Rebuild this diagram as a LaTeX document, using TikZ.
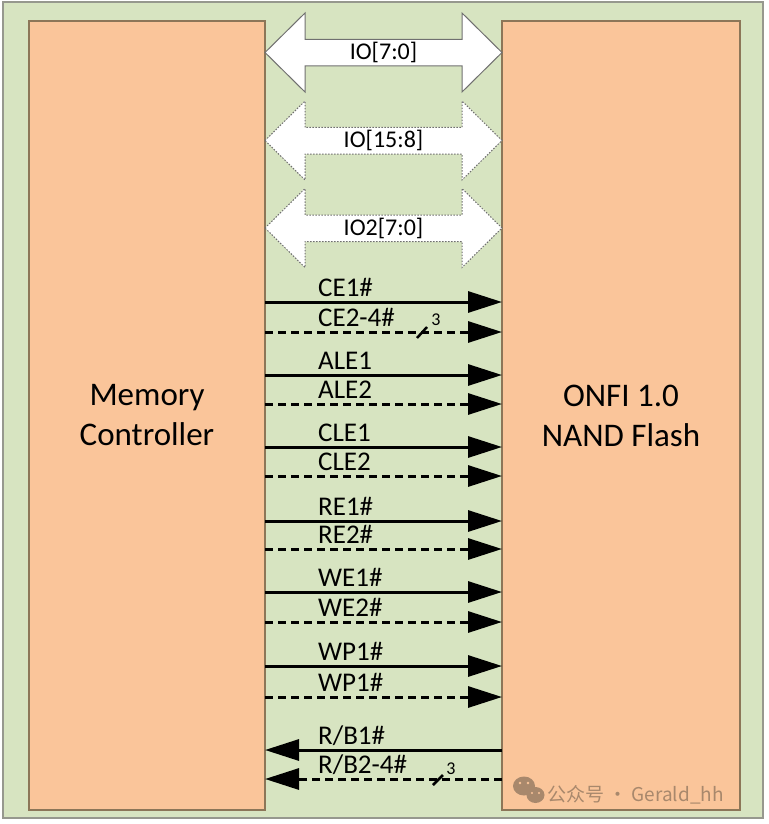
\documentclass[tikz,border=0pt]{standalone}
\usepackage{fontspec}
\setmainfont{Carlito}
\newfontfamily\cjkfont{Noto Sans CJK SC}
\usetikzlibrary{arrows.meta}
\definecolor{bggreen}{RGB}{215,228,193}
\definecolor{chiporange}{RGB}{250,197,154}
\definecolor{chipborder}{RGB}{140,118,88}
\definecolor{outerborder}{RGB}{150,152,142}
\definecolor{busborder}{RGB}{112,112,112}
\definecolor{wmark}{RGB}{168,136,108}
\newcommand\sigLR[4]{% name, y, label, style
  \coordinate (#1) at (0,#2);
  \draw[#4] (mc.east |- #1) -- (nf.west |- #1);
  \node[siglabel] (#1t) at (318,#2-6) {#3};}
\newcommand\sigRL[4]{% name, y, label, style
  \coordinate (#1) at (0,#2);
  \draw[#4] (nf.west |- #1) -- (mc.east |- #1);
  \node[siglabel] (#1t) at (318,#2-6) {#3};}
\newcommand\iobus[4]{% name, y centre, label, style
  \draw[#4] (265,#2) -- (305,#2-39.5) -- (305,#2-13) -- (462,#2-13) -- (462,#2-39.5)
    -- (502,#2) -- (462,#2+39.5) -- (462,#2+13.5) -- (305,#2+13.5) -- (305,#2+39.5) -- cycle;
  \node[buslabel] (#1) at (383.5,#2) {#3};}
\begin{document}
\begin{tikzpicture}[x=1pt,y=-1pt,
  chip/.style={draw=chipborder, fill=chiporange, line width=1.5pt, inner sep=0pt, outer sep=0pt,
    align=center, font=\fontsize{33}{40}\selectfont},
  busline/.style={draw=busborder, fill=white, line width=1pt, line join=miter},
  busdotted/.style={draw=busborder, fill=white, line width=1pt, dash pattern=on 1.5pt off 1.5pt},
  buslabel/.style={inner sep=0pt, font=\fontsize{24}{26}\selectfont},
  siglabel/.style={anchor=base west, inner sep=0pt, font=\fontsize{27}{30}\selectfont},
  sig/.style={line width=3pt, -{Triangle[length=34pt,width=21pt]}},
  sigdash/.style={sig, dash pattern=on 8pt off 5pt},
  buswidth/.style={line width=2.5pt},
  buscount/.style={inner sep=0pt, font=\fontsize{18}{20}\selectfont}]
\useasboundingbox (0,0) rectangle (768,824);
\fill[white] (0,0) rectangle (768,824);
\draw[draw=outerborder, fill=bggreen, line width=1.5pt] (3,2) rectangle (763,818);
\node[chip, minimum width=236pt, minimum height=789pt] (mc) at (147,415.5) {Memory\\Controller};
\node[chip, minimum width=238pt, minimum height=789pt] (nf) at (621,415.5) {ONFI 1.0\\NAND Flash};
% data buses
\iobus{io1}{52.5}{IO[7:0]}{busline}
\iobus{io2}{140.5}{IO[15:8]}{busdotted}
\iobus{io3}{228}{IO2[7:0]}{busdotted}
% control signals
\sigLR{ce1}{302}{CE1\#}{sig}
\sigLR{ce2}{332}{CE2-4\#}{sigdash}
\sigLR{ale1}{375}{ALE1}{sig}
\sigLR{ale2}{404}{ALE2}{sigdash}
\sigLR{cle1}{447}{CLE1}{sig}
\sigLR{cle2}{476}{CLE2}{sigdash}
\sigLR{re1}{521}{RE1\#}{sig}
\sigLR{re2}{549}{RE2\#}{sigdash}
\sigLR{we1}{592}{WE1\#}{sig}
\sigLR{we2}{622}{WE2\#}{sigdash}
\sigLR{wp1}{666}{WP1\#}{sig}
\sigLR{wp2}{697}{WP1\#}{sigdash}
\sigRL{rb1}{750}{R/B1\#}{sig}
\sigRL{rb2}{779}{R/B2-4\#}{sigdash}
% bus width marks
\draw[buswidth] (417,338) -- (427,327);
\node[buscount] (ce2n) at (436,320) {3};
\draw[buswidth] (433,785) -- (443,775);
\node[buscount] (rb2n) at (451,769) {3};
% watermark
\fill[wmark] (524,786) ellipse (11pt and 9.5pt);
\fill[wmark] (535.5,795) ellipse (9pt and 8pt);
\fill[chiporange] (520,783) circle (1.4pt) (528,783) circle (1.4pt)
  (532,793) circle (1.2pt) (539,793) circle (1.2pt);
\node[anchor=base west, inner sep=0pt, text=wmark, font=\cjkfont\fontsize{19}{24}\selectfont]
  (wm) at (547,801) {公众号 · Gerald\_hh};
\end{tikzpicture}
\end{document}
